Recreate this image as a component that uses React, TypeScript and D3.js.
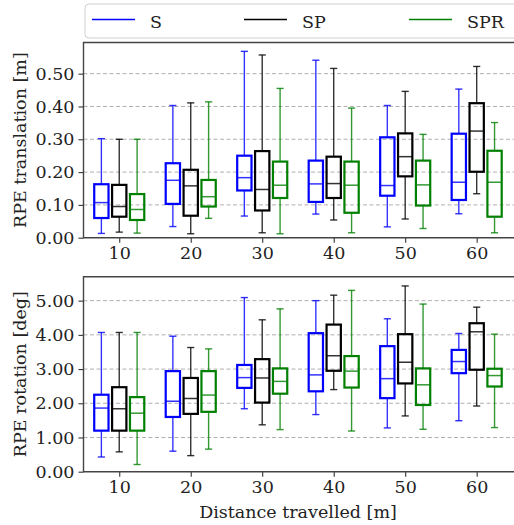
import React, { useEffect, useRef } from "react";
import * as d3 from "d3";

// distances travelled [m]
const distances = [10, 20, 30, 40, 50, 60];
const methods = ["S", "SP", "SPR"];
const colors = ["#0000ff", "#000000", "#008000"];

// each entry: [whisker low, q1, median, q3, whisker high]
const transS = [
  [0.013, 0.06, 0.107, 0.163, 0.302],
  [0.034, 0.103, 0.175, 0.227, 0.403],
  [0.066, 0.144, 0.183, 0.25, 0.568],
  [0.072, 0.109, 0.164, 0.235, 0.541],
  [0.033, 0.128, 0.159, 0.306, 0.403],
  [0.073, 0.115, 0.169, 0.317, 0.453],
];
const transSP = [
  [0.017, 0.064, 0.095, 0.161, 0.3],
  [0.012, 0.067, 0.158, 0.207, 0.411],
  [0.015, 0.083, 0.147, 0.264, 0.557],
  [0.054, 0.121, 0.165, 0.247, 0.516],
  [0.057, 0.187, 0.247, 0.318, 0.446],
  [0.134, 0.201, 0.325, 0.41, 0.522],
];
const transSPR = [
  [0.014, 0.054, 0.086, 0.133, 0.3],
  [0.059, 0.095, 0.125, 0.176, 0.414],
  [0.012, 0.121, 0.16, 0.232, 0.455],
  [0.015, 0.076, 0.16, 0.232, 0.395],
  [0.028, 0.098, 0.161, 0.235, 0.315],
  [0.015, 0.064, 0.169, 0.265, 0.351],
];

const rotS = [
  [0.43, 1.2, 1.86, 2.25, 4.07],
  [0.6, 1.6, 2.06, 2.94, 3.96],
  [1.84, 2.45, 2.75, 3.12, 5.09],
  [1.67, 2.35, 2.83, 4.05, 5.0],
  [1.28, 2.15, 2.72, 3.67, 4.47],
  [1.49, 2.88, 3.22, 3.56, 4.04],
];
const rotSP = [
  [0.58, 1.2, 1.84, 2.47, 4.07],
  [0.47, 1.69, 2.14, 2.74, 3.63],
  [1.37, 2.02, 2.74, 3.29, 4.44],
  [2.4, 2.95, 3.39, 4.3, 5.16],
  [1.63, 2.58, 3.2, 4.02, 5.43],
  [1.92, 2.98, 4.09, 4.34, 4.81],
];
const rotSPR = [
  [0.21, 1.2, 1.71, 2.18, 4.07],
  [0.66, 1.75, 2.24, 2.94, 3.59],
  [1.23, 2.28, 2.64, 3.02, 4.76],
  [1.19, 2.46, 2.94, 3.38, 5.3],
  [1.24, 1.95, 2.54, 3.02, 4.9],
  [1.29, 2.49, 2.81, 3.01, 4.02],
];

const transTicks = [0, 0.1, 0.2, 0.3, 0.4, 0.5];
const rotTicks = [0, 1, 2, 3, 4, 5];

const FONT = "DejaVu Serif";
const FS = 17.5;
const W = 514,
  H = 525;

function App() {
  const ref = useRef<SVGSVGElement>(null);

  useEffect(() => {
    const svg = d3.select(ref.current);
    svg.selectAll("*").remove();

    const left = 83.5,
      right = 516;
    const x = d3.scaleLinear().domain([5, 65.5]).range([left, right]);
    const unit = x(1) - x(0);

    const panels = [
      { top: 42.5, bottom: 237.7, max: 0.595, ticks: transTicks, data: [transS, transSP, transSPR], label: "RPE translation [m]" },
      { top: 276.7, bottom: 471.7, max: 5.7, ticks: rotTicks, data: [rotS, rotSP, rotSPR], label: "RPE rotation [deg]" },
    ];

    panels.forEach((p) => {
      const y = d3.scaleLinear().domain([0, p.max]).range([p.bottom, p.top]);
      const g = svg.append("g");

      // grid
      g.selectAll("line.grid")
        .data(p.ticks.filter((t) => t > 0))
        .join("line")
        .attr("class", "grid")
        .attr("x1", left)
        .attr("x2", right)
        .attr("y1", (d) => y(d))
        .attr("y2", (d) => y(d))
        .attr("stroke", "#b0b0b0")
        .attr("stroke-width", 1)
        .attr("stroke-dasharray", "4,2.5");

      // boxes
      p.data.forEach((series, mi) => {
        const off = (mi - 1) * 2.5;
        const c = colors[mi];
        const bg = g.append("g");
        series.forEach((s, i) => {
          const cx = x(distances[i] + off);
          const [lo, q1, med, q3, hi] = s;
          const wg = bg.append("g").attr("stroke", c).attr("stroke-opacity", 0.8).attr("stroke-width", 1.4);
          wg.append("line").attr("x1", cx).attr("x2", cx).attr("y1", y(q1)).attr("y2", y(lo));
          wg.append("line").attr("x1", cx).attr("x2", cx).attr("y1", y(q3)).attr("y2", y(hi));
          wg.append("line").attr("x1", cx - unit / 2).attr("x2", cx + unit / 2).attr("y1", y(lo)).attr("y2", y(lo));
          wg.append("line").attr("x1", cx - unit / 2).attr("x2", cx + unit / 2).attr("y1", y(hi)).attr("y2", y(hi));
          bg.append("rect")
            .attr("x", cx - unit)
            .attr("width", 2 * unit)
            .attr("y", y(q3))
            .attr("height", y(q1) - y(q3))
            .attr("fill", "none")
            .attr("stroke", c)
            .attr("stroke-width", 2.2);
          bg.append("line")
            .attr("x1", cx - unit)
            .attr("x2", cx + unit)
            .attr("y1", y(med))
            .attr("y2", y(med))
            .attr("stroke", c)
            .attr("stroke-opacity", 0.8)
            .attr("stroke-width", 1.5);
        });
      });

      // axes
      const ya = g.append("g")
        .attr("transform", `translate(${left},0)`)
        .call(d3.axisLeft(y).tickValues(p.ticks).tickFormat(d3.format(".2f")).tickSize(5).tickPadding(4));
      const xa = g.append("g")
        .attr("transform", `translate(0,${p.bottom})`)
        .call(d3.axisBottom(x).tickValues(distances).tickFormat(d3.format("d")).tickSize(5).tickPadding(4));
      [ya, xa].forEach((a) => {
        a.attr("font-family", FONT).attr("font-size", FS);
        a.select(".domain").remove();
        a.selectAll("line").attr("stroke", "#333").attr("stroke-width", 1.1);
        a.selectAll("text").attr("fill", "#222");
      });

      // spines
      g.append("path")
        .attr("d", `M${right},${p.top}H${left}V${p.bottom}H${right}`)
        .attr("fill", "none")
        .attr("stroke", "#444")
        .attr("stroke-width", 1.4);

      g.append("text")
        .attr("transform", `translate(26,${(p.top + p.bottom) / 2}) rotate(-90)`)
        .attr("text-anchor", "middle")
        .attr("font-family", FONT)
        .attr("font-size", FS)
        .attr("fill", "#222")
        .text(p.label);
    });

    svg.append("text")
      .attr("x", 298)
      .attr("y", 518)
      .attr("text-anchor", "middle")
      .attr("font-family", FONT)
      .attr("font-size", FS)
      .attr("fill", "#222")
      .text("Distance travelled [m]");

    // legend
    const lg = svg.append("g");
    lg.append("rect")
      .attr("x", 85)
      .attr("y", 4)
      .attr("width", 445)
      .attr("height", 34)
      .attr("rx", 4)
      .attr("fill", "white")
      .attr("stroke", "#d0d0d0")
      .attr("stroke-width", 1);
    const entryX = [92, 244, 409];
    methods.forEach((m, i) => {
      lg.append("line")
        .attr("x1", entryX[i])
        .attr("x2", entryX[i] + 43)
        .attr("y1", 19.5)
        .attr("y2", 19.5)
        .attr("stroke", colors[i])
        .attr("stroke-width", 1.6);
      lg.append("text")
        .attr("x", entryX[i] + 58)
        .attr("y", 27.5)
        .attr("font-family", FONT)
        .attr("font-size", FS)
        .attr("fill", "#222")
        .text(m);
    });
  }, []);

  return (
    <svg ref={ref} width={W} height={H} style={{ position: "absolute", left: 0, top: 0, background: "white" }}></svg>
  );
}

export default App;
